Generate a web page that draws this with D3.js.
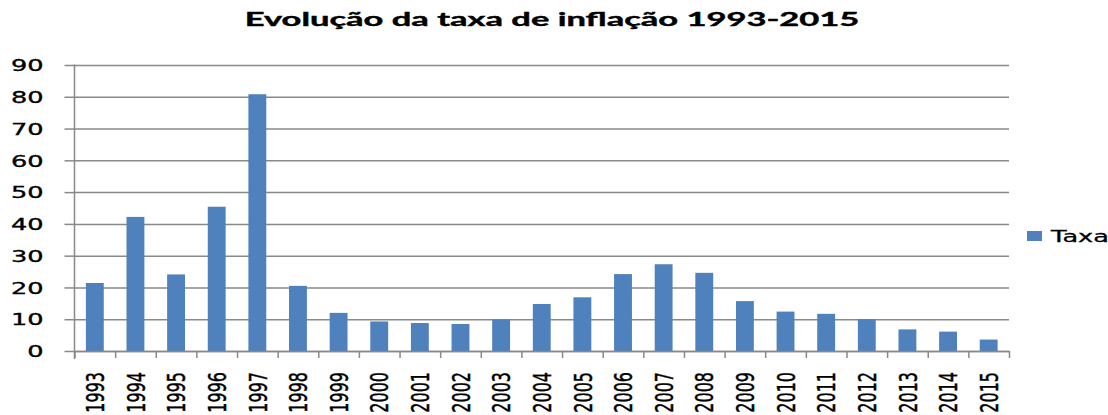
<!DOCTYPE html>
<html>
<head>
<meta charset="utf-8">
<script src="https://cdn.jsdelivr.net/npm/d3@7"></script>
<style>
  body { margin: 0; background: #fff; }
  svg { display: block; }
</style>
</head>
<body>
<div class="chart"></div>
<script>
// data
var years = ["1993","1994","1995","1996","1997","1998","1999","2000","2001","2002","2003","2004",
             "2005","2006","2007","2008","2009","2010","2011","2012","2013","2014","2015"];
var taxa = [21.4, 42.2, 24.1, 45.4, 80.8, 20.5, 12.0, 9.3, 8.8, 8.5, 9.9, 14.8,
            16.9, 24.2, 27.3, 24.6, 15.7, 12.4, 11.7, 10.0, 6.8, 6.1, 3.6];
var yTicks = [0, 10, 20, 30, 40, 50, 60, 70, 80, 90];
var seriesName = "Taxa";
var title = "Evolução da taxa de inflação 1993-2015";

var W = 1108, H = 415;
var margin = {top: 65, right: 99, bottom: 64, left: 74.5},
    width = W - margin.left - margin.right,
    height = H - margin.top - margin.bottom;
var stretch = 1.6; // the picture is wide, text looks stretched
var gridColor = "#898989", barColor = "#4f81bd";
var labelFont = "DejaVu Sans, Verdana, sans-serif";

var svg = d3.select(".chart").append("svg")
    .attr("width", W).attr("height", H);

var g = svg.append("g")
    .attr("transform", "translate(" + margin.left + "," + margin.top + ")");

var x = d3.scaleBand().domain(years).range([0, width])
    .paddingInner(0.56).paddingOuter(0.28);
var y = d3.scaleLinear().domain([0, 90]).range([height, 0]);

// gridlines
g.append("g")
    .call(d3.axisLeft(y).tickValues(yTicks).tickSize(-width).tickFormat(""))
    .call(function(s){ s.select(".domain").remove(); })
    .selectAll("line").attr("stroke", gridColor).attr("stroke-width", 1.5);

// bars
g.selectAll(".bar").data(taxa).enter().append("rect")
    .attr("class", "bar")
    .attr("x", function(d, i){ return x(years[i]); })
    .attr("width", x.bandwidth())
    .attr("y", function(d){ return y(d); })
    .attr("height", function(d){ return height - y(d); })
    .attr("fill", barColor);

// y axis
var yAx = g.append("g")
    .call(d3.axisLeft(y).tickValues(yTicks).tickSize(10).tickPadding(0).tickFormat(d3.format("d")));
yAx.select(".domain").attr("stroke", gridColor).attr("stroke-width", 1.5)
    .attr("d", "M0,-0.5V" + (height + 8));
yAx.selectAll("line").attr("stroke", gridColor).attr("stroke-width", 1.5);
yAx.selectAll("text")
    .attr("font-family", labelFont)
    .attr("font-size", 16).attr("fill", "#000")
    .attr("stroke", "#000").attr("stroke-width", 0.35)
    .attr("x", 0).attr("dy", "0.36em")
    .attr("transform", "translate(-31,0) scale(" + stretch + ",1)");

// x axis: slot boundary ticks
var slots = d3.scaleLinear().domain([0, years.length]).range([0, width]);
var xTickAx = g.append("g")
    .attr("transform", "translate(0," + height + ")")
    .call(d3.axisBottom(slots).tickValues(d3.range(years.length + 1)).tickSize(7).tickFormat(""));
xTickAx.select(".domain").attr("stroke", gridColor).attr("stroke-width", 1.5)
    .attr("d", "M0,0.5H" + width);
xTickAx.selectAll("line").attr("stroke", gridColor).attr("stroke-width", 1.5);

// x axis labels
var xAx = g.append("g")
    .attr("transform", "translate(0," + height + ")")
    .call(d3.axisBottom(x).tickSize(0).tickFormat(function(d){ return d; }));
xAx.select(".domain").remove();
xAx.selectAll("text")
    .attr("font-family", labelFont)
    .attr("font-size", 16).attr("fill", "#000")
    .attr("stroke", "#000").attr("stroke-width", 0.3)
    .attr("x", 0).attr("y", 0).attr("dy", "0.36em")
    .style("text-anchor", "end")
    .attr("transform", "translate(0,21) scale(" + stretch + ",1) rotate(-90)");

// title
var t = svg.append("text")
    .attr("font-family", "Lato, 'Open Sans', sans-serif")
    .attr("font-weight", "bold")
    .attr("font-size", 19)
    .attr("fill", "#000")
    .attr("stroke", "#000").attr("stroke-width", 0.4)
    .attr("text-anchor", "middle")
    .text(title);
var tw = t.node().getComputedTextLength();
t.attr("transform", "translate(552,26) scale(" + (615 / tw) + ",1)");

// legend
var leg = svg.append("g").attr("transform", "translate(1027,231)");
leg.append("rect").attr("width", 15).attr("height", 10).attr("fill", barColor);
leg.append("text")
    .attr("font-family", labelFont)
    .attr("font-size", 16).attr("fill", "#000")
    .attr("stroke", "#000").attr("stroke-width", 0.3)
    .attr("dy", "0.36em")
    .attr("transform", "translate(24,5) scale(" + stretch + ",1)")
    .text(seriesName);
</script>
</body>
</html>
